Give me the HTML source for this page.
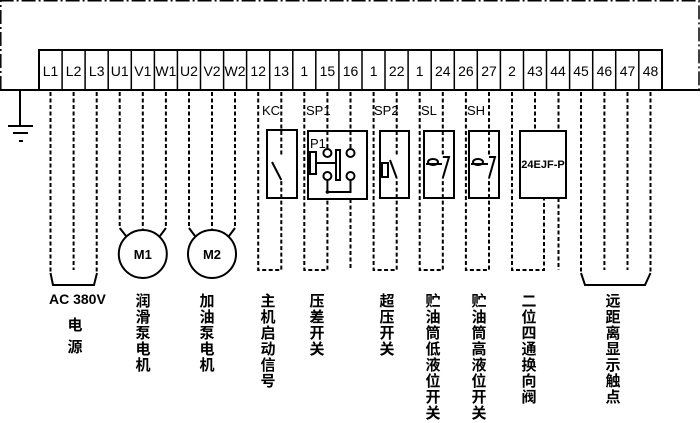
<!DOCTYPE html>
<html><head><meta charset="utf-8"><style>
html,body{margin:0;padding:0;background:#fff}
svg{display:block}
text{font-family:"Liberation Sans","Noto Sans CJK SC",sans-serif;fill:#000}
.d{stroke:#000;stroke-width:2;stroke-dasharray:4 2.5;fill:none}
.s{stroke:#000;stroke-width:2;fill:none}
</style></head><body>
<svg width="700" height="423" viewBox="0 0 700 423" xmlns="http://www.w3.org/2000/svg">
<path d="M0.8,90 L0.8,0.8 L699,0.8 L699,90" stroke="#000" stroke-width="1.5" fill="none" stroke-dasharray="14 3 2 3"/>
<line x1="0" y1="90" x2="39" y2="90" class="s"/>
<line x1="662" y1="90" x2="700" y2="90" class="s"/>
<line x1="20" y1="90" x2="20" y2="126" class="s"/>
<line x1="8" y1="126" x2="33" y2="126" class="s"/>
<line x1="13" y1="133" x2="28" y2="133" class="s"/>
<line x1="19" y1="141" x2="23" y2="141" class="s"/>
<rect x="39" y="50" width="623" height="40" fill="none" stroke="#000" stroke-width="2"/>
<g stroke="#000" stroke-width="1.5">
<line x1="62.1" y1="50" x2="62.1" y2="90"/><line x1="85.1" y1="50" x2="85.1" y2="90"/><line x1="108.2" y1="50" x2="108.2" y2="90"/><line x1="131.3" y1="50" x2="131.3" y2="90"/><line x1="154.4" y1="50" x2="154.4" y2="90"/><line x1="177.4" y1="50" x2="177.4" y2="90"/><line x1="200.5" y1="50" x2="200.5" y2="90"/><line x1="223.6" y1="50" x2="223.6" y2="90"/><line x1="246.6" y1="50" x2="246.6" y2="90"/><line x1="269.7" y1="50" x2="269.7" y2="90"/><line x1="292.8" y1="50" x2="292.8" y2="90"/><line x1="315.8" y1="50" x2="315.8" y2="90"/><line x1="338.9" y1="50" x2="338.9" y2="90"/><line x1="362" y1="50" x2="362" y2="90"/><line x1="385" y1="50" x2="385" y2="90"/><line x1="408.1" y1="50" x2="408.1" y2="90"/><line x1="431.2" y1="50" x2="431.2" y2="90"/><line x1="454.3" y1="50" x2="454.3" y2="90"/><line x1="477.3" y1="50" x2="477.3" y2="90"/><line x1="500.4" y1="50" x2="500.4" y2="90"/><line x1="523.5" y1="50" x2="523.5" y2="90"/><line x1="546.5" y1="50" x2="546.5" y2="90"/><line x1="569.6" y1="50" x2="569.6" y2="90"/><line x1="592.7" y1="50" x2="592.7" y2="90"/><line x1="615.7" y1="50" x2="615.7" y2="90"/><line x1="638.8" y1="50" x2="638.8" y2="90"/>
</g>
<g font-size="14" text-anchor="middle">
<text x="50.5" y="76">L1</text><text x="73.6" y="76">L2</text><text x="96.7" y="76">L3</text><text x="119.7" y="76">U1</text><text x="142.8" y="76">V1</text><text x="165.9" y="76">W1</text><text x="189" y="76">U2</text><text x="212" y="76">V2</text><text x="235" y="76">W2</text><text x="258.2" y="76">12</text><text x="281.3" y="76">13</text><text x="304.3" y="76">1</text><text x="327.4" y="76">15</text><text x="350.5" y="76">16</text><text x="373.6" y="76">1</text><text x="396.7" y="76">22</text><text x="419.7" y="76">1</text><text x="442.8" y="76">24</text><text x="465.9" y="76">26</text><text x="489" y="76">27</text><text x="512" y="76">2</text><text x="535" y="76">43</text><text x="558" y="76">44</text><text x="581" y="76">45</text><text x="604.4" y="76">46</text><text x="627.5" y="76">47</text><text x="650.5" y="76">48</text>
</g>
<line x1="50.5" y1="92" x2="50.5" y2="273" class="d"/>
<line x1="73.6" y1="92" x2="73.6" y2="270" class="d"/>
<line x1="96.7" y1="92" x2="96.7" y2="273" class="d"/>
<path d="M50.5,273 L53,285 L94,285 L97,273" class="s"/>
<line x1="119.7" y1="92" x2="119.7" y2="228" class="d"/>
<line x1="142.8" y1="92" x2="142.8" y2="230" class="d"/>
<line x1="165.9" y1="92" x2="165.9" y2="228" class="d"/>
<path d="M119.7,228 L126,236 M165.9,228 L160,236" class="s"/>
<circle cx="142.8" cy="254" r="24" class="s"/>
<text x="142.8" y="259" font-size="13" font-weight="bold" text-anchor="middle">M1</text>
<line x1="189" y1="92" x2="189" y2="228" class="d"/>
<line x1="212" y1="92" x2="212" y2="230" class="d"/>
<line x1="235" y1="92" x2="235" y2="228" class="d"/>
<path d="M189,228 L195,236 M235,228 L229,236" class="s"/>
<circle cx="212" cy="254" r="24" class="s"/>
<text x="212" y="259" font-size="13" font-weight="bold" text-anchor="middle">M2</text>
<path d="M258.2,92 L258.2,270 L281.3,270 L281.3,180" class="d"/>
<line x1="281.3" y1="92" x2="281.3" y2="157" class="d"/>
<rect x="267" y="130" width="30" height="68" class="s"/>
<path d="M272,162 L281.3,180" class="s"/>
<text x="262" y="115" font-size="13">KC</text>
<path d="M304.3,92 L304.3,270 L327.4,270 L327.4,199" class="d"/>
<line x1="327.4" y1="92" x2="327.4" y2="149" class="d"/>
<line x1="350.5" y1="92" x2="350.5" y2="149" class="d"/>
<line x1="350.5" y1="199" x2="350.5" y2="270" class="d"/>
<rect x="308" y="131" width="59" height="68" class="s"/>
<text x="310" y="148" font-size="13">P1</text>
<circle cx="327.4" cy="153" r="4" class="s"/><circle cx="350.5" cy="153" r="4" class="s"/>
<circle cx="327.4" cy="176" r="4" class="s"/><circle cx="350.5" cy="176" r="4" class="s"/>
<rect x="336" y="150" width="4" height="30" class="s"/>
<rect x="310" y="152" width="6" height="22" class="s"/>
<line x1="316" y1="163" x2="336" y2="163" class="s"/>
<path d="M327.4,180 L327.4,192 L350.5,192 L350.5,180" class="s"/>
<circle cx="327.4" cy="192" r="1.8"/>
<text x="306" y="115" font-size="13">SP1</text>
<path d="M373.6,92 L373.6,270 L396.7,270 L396.7,178" class="d"/>
<line x1="396.7" y1="92" x2="396.7" y2="157" class="d"/>
<rect x="380" y="131" width="29" height="67" class="s"/>
<path d="M390,160 L396.7,178" class="s"/>
<rect x="382" y="163" width="6" height="14" class="s"/>
<text x="374" y="115" font-size="13">SP2</text>
<path d="M419.7,92 L419.7,270 L442.8,270 L442.8,178" class="d"/>
<line x1="442.8" y1="92" x2="442.8" y2="157" class="d"/>
<rect x="424" y="131" width="30" height="67" class="s"/>
<path d="M442.8,157 L449,157 L442.8,178" class="s"/>
<ellipse cx="433" cy="162" rx="5" ry="3" class="s"/>
<line x1="426" y1="164" x2="442" y2="164" class="s"/>
<text x="421" y="115" font-size="13">SL</text>
<path d="M465.9,92 L465.9,270 L489,270 L489,178" class="d"/>
<line x1="489" y1="92" x2="489" y2="157" class="d"/>
<rect x="469" y="131" width="30" height="67" class="s"/>
<path d="M489,157 L495,157 L489,178" class="s"/>
<ellipse cx="478" cy="162" rx="5" ry="3" class="s"/>
<line x1="471" y1="164" x2="488" y2="164" class="s"/>
<text x="467" y="115" font-size="13">SH</text>
<path d="M512,92 L512,270 L544,270 L544,198" class="d"/>
<line x1="535" y1="92" x2="535" y2="131" class="d"/>
<line x1="558.5" y1="92" x2="558.5" y2="131" class="d"/>
<line x1="558.5" y1="198" x2="558.5" y2="270" class="d"/>
<rect x="520" y="131" width="46" height="67" class="s"/>
<text x="543" y="168" font-size="11" font-weight="bold" text-anchor="middle">24EJF-P</text>
<line x1="581" y1="92" x2="581" y2="273" class="d"/>
<line x1="604.4" y1="92" x2="604.4" y2="270" class="d"/>
<line x1="627.5" y1="92" x2="627.5" y2="270" class="d"/>
<line x1="650.5" y1="92" x2="650.5" y2="273" class="d"/>
<path d="M581,273 L585,285 L645,285 L650.5,273" class="s"/>
<text x="49" y="304" font-size="14" font-weight="bold">AC 380V</text>
<g font-size="15" font-weight="bold" text-anchor="middle">
<text x="75" y="330">电</text><text x="75" y="352">源</text>
<text x="143" y="306">润</text><text x="143" y="322">滑</text><text x="143" y="338">泵</text><text x="143" y="354">电</text><text x="143" y="370">机</text>
<text x="207" y="306">加</text><text x="207" y="322">油</text><text x="207" y="338">泵</text><text x="207" y="354">电</text><text x="207" y="370">机</text>
<text x="268" y="306">主</text><text x="268" y="322">机</text><text x="268" y="338">启</text><text x="268" y="354">动</text><text x="268" y="370">信</text><text x="268" y="386">号</text>
<text x="317" y="306">压</text><text x="317" y="322">差</text><text x="317" y="338">开</text><text x="317" y="354">关</text>
<text x="387" y="306">超</text><text x="387" y="322">压</text><text x="387" y="338">开</text><text x="387" y="354">关</text>
<text x="433" y="306">贮</text><text x="433" y="322">油</text><text x="433" y="338">筒</text><text x="433" y="354">低</text><text x="433" y="370">液</text><text x="433" y="386">位</text><text x="433" y="402">开</text><text x="433" y="418">关</text>
<text x="479" y="306">贮</text><text x="479" y="322">油</text><text x="479" y="338">筒</text><text x="479" y="354">高</text><text x="479" y="370">液</text><text x="479" y="386">位</text><text x="479" y="402">开</text><text x="479" y="418">关</text>
<text x="529" y="306">二</text><text x="529" y="322">位</text><text x="529" y="338">四</text><text x="529" y="354">通</text><text x="529" y="370">换</text><text x="529" y="386">向</text><text x="529" y="402">阀</text>
<text x="613" y="306">远</text><text x="613" y="322">距</text><text x="613" y="338">离</text><text x="613" y="354">显</text><text x="613" y="370">示</text><text x="613" y="386">触</text><text x="613" y="402">点</text>
</g>
</svg>
</body></html>
